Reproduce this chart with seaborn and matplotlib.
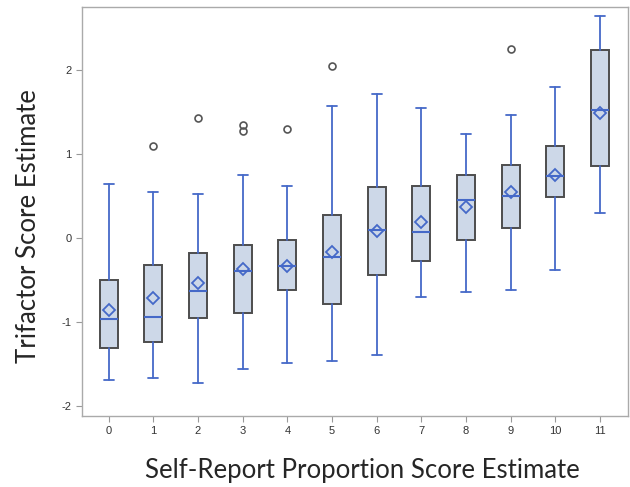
import matplotlib
matplotlib.use("Agg")
import matplotlib.pyplot as plt
import seaborn as sns

# values
groups = ["0", "1", "2", "3", "4", "5", "6", "7", "8", "9", "10", "11"]
whisker_lo = [-1.69, -1.67, -1.73, -1.56, -1.49, -1.47, -1.39, -0.71, -0.65, -0.62, -0.38, 0.30]
q1 = [-1.31, -1.24, -0.96, -0.89, -0.62, -0.79, -0.44, -0.28, -0.03, 0.12, 0.48, 0.85]
median = [-0.97, -0.94, -0.63, -0.40, -0.33, -0.23, 0.09, 0.07, 0.45, 0.50, 0.73, 1.52]
q3 = [-0.50, -0.32, -0.18, -0.09, -0.03, 0.27, 0.60, 0.62, 0.75, 0.87, 1.09, 2.23]
whisker_hi = [0.64, 0.55, 0.52, 0.75, 0.62, 1.57, 1.71, 1.54, 1.23, 1.46, 1.79, 2.64]
means = [-0.86, -0.72, -0.54, -0.37, -0.33, -0.17, 0.08, 0.19, 0.37, 0.54, 0.75, 1.49]
outliers = [[], [1.09], [1.43], [1.34, 1.27], [1.30], [2.04], [], [], [], [2.25], [], []]

sns.set_style("white")
plt.rcParams['font.family'] = ['Liberation Sans', 'DejaVu Sans']

stats = []
for i, g in enumerate(groups):
    stats.append(dict(label=g, whislo=whisker_lo[i], q1=q1[i], med=median[i],
                      q3=q3[i], whishi=whisker_hi[i], mean=means[i], fliers=outliers[i]))

blue = "#4569c8"
fig, ax = plt.subplots(figsize=(6.3, 4.87), dpi=100)
ax.bxp(stats, positions=range(len(groups)), widths=0.4, showmeans=True,
       patch_artist=True, capwidths=0.22,
       boxprops=dict(facecolor="#cdd8e8", edgecolor="#4d4d4d", linewidth=1.4),
       whiskerprops=dict(color=blue, linewidth=1.3),
       capprops=dict(color=blue, linewidth=1.3),
       medianprops=dict(color=blue, linewidth=1.5),
       meanprops=dict(marker="D", markerfacecolor="none", markeredgecolor=blue,
                      markersize=6.5, markeredgewidth=1.3),
       flierprops=dict(marker="o", markerfacecolor="none", markeredgecolor="#555555",
                       markersize=5, markeredgewidth=1.2))

ax.set_xlim(-0.6, 11.63)
ax.set_ylim(-2.12, 2.75)
ax.set_yticks([-2, -1, 0, 1, 2])
ax.set_yticklabels(["-2", "-1", "0", "1", "2"])
ax.tick_params(axis="both", labelsize=8, labelcolor="#333333", color="#999999",
               length=4, width=0.8, direction="out", left=True, bottom=True)
for s in ax.spines.values():
    s.set_color("#aaaaaa")
    s.set_linewidth(1.0)

ax.set_xlabel("Self-Report Proportion Score Estimate", fontsize=18.5, family="Lato")
ax.set_ylabel("Trifactor Score Estimate", fontsize=18.5, family="Lato")
ax.xaxis.set_label_coords(0.513, -0.103)
ax.yaxis.set_label_coords(-0.075, 0.465)

fig.subplots_adjust(left=0.13, right=0.997, top=0.986, bottom=0.146)
fig.savefig("out.png", dpi=100)
